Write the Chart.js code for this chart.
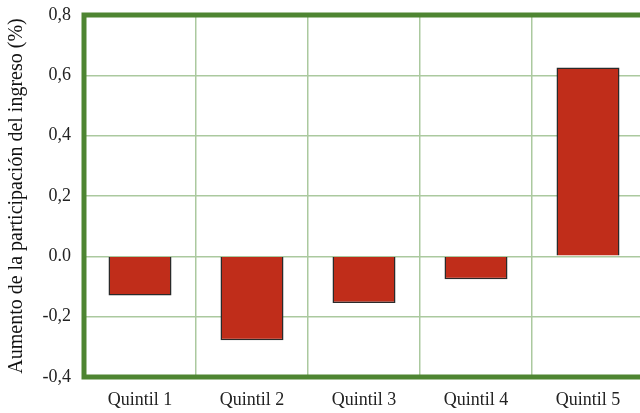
<!DOCTYPE html>
<html>
<head>
<meta charset="utf-8">
<script src="https://cdn.jsdelivr.net/npm/chart.js@4/dist/chart.umd.min.js"></script>
<style>
html,body{margin:0;padding:0;background:#fff;overflow:hidden;width:640px;height:413px;}
canvas{display:block;}
</style>
</head>
<body>
<canvas id="c" width="644" height="413"></canvas>
<script>
const categories = ['Quintil 1','Quintil 2','Quintil 3','Quintil 4','Quintil 5'];
const values = [-0.13, -0.278, -0.155, -0.076, 0.626];
const tickValues = [-0.4, -0.2, 0.0, 0.2, 0.4, 0.6, 0.8];
const tickLabels = ['-0,4', '-0,2', '0.0', '0,2', '0,4', '0,6', '0,8'];
const yTitle = 'Aumento de la participación del ingreso (%)';

const GREEN = '#4e8532';
const frame = {
  id: 'frame',
  afterDatasetsDraw(chart) {
    const {ctx, chartArea: a} = chart;
    ctx.save();
    ctx.strokeStyle = GREEN;
    ctx.lineWidth = 5;
    ctx.lineCap = 'butt';
    ctx.beginPath();
    ctx.moveTo(chart.width + 10, a.top);
    ctx.lineTo(a.left, a.top);
    ctx.lineTo(a.left, a.bottom);
    ctx.lineTo(chart.width + 10, a.bottom);
    ctx.stroke();
    ctx.restore();
  }
};

new Chart(document.getElementById('c'), {
  type: 'bar',
  data: {
    labels: categories,
    datasets: [{
      data: values,
      backgroundColor: '#c02d1a',
      borderColor: '#2a2a2a',
      borderWidth: 1.5,
      categoryPercentage: 1,
      barPercentage: 0.5625
    }]
  },
  options: {
    responsive: false,
    animation: false,
    layout: {padding: {top: 15, right: 0, left: 0, bottom: 0}},
    plugins: {legend: {display: false}, tooltip: {enabled: false}},
    scales: {
      x: {
        grid: {color: '#abc99f', lineWidth: 1.5, drawTicks: false},
        border: {display: false},
        ticks: {color: '#222', font: {family: 'Liberation Serif', size: 18}, padding: 12},
        afterFit(s) { s.height = 36; s.paddingLeft = 0; s.paddingRight = 0; }
      },
      y: {
        min: -0.4, max: 0.8,
        afterBuildTicks(s) { s.ticks = tickValues.map(v => ({value: v})); },
        grid: {color: '#abc99f', lineWidth: 1.5, drawTicks: false},
        border: {display: false},
        ticks: {
          color: '#222', font: {family: 'Liberation Serif', size: 18}, padding: 13,
          callback(v) { const i = tickValues.findIndex(t => Math.abs(t - v) < 1e-9); return i >= 0 ? tickLabels[i] : ''; }
        },
        title: {display: true, text: yTitle, color: '#111', font: {family: 'Liberation Serif', size: 20}, padding: {top: 5, bottom: 0}},
        afterFit(s) { s.width = 84; s.paddingTop = 0; s.paddingBottom = 0; }
      }
    }
  },
  plugins: [frame]
});
</script>
</body>
</html>
